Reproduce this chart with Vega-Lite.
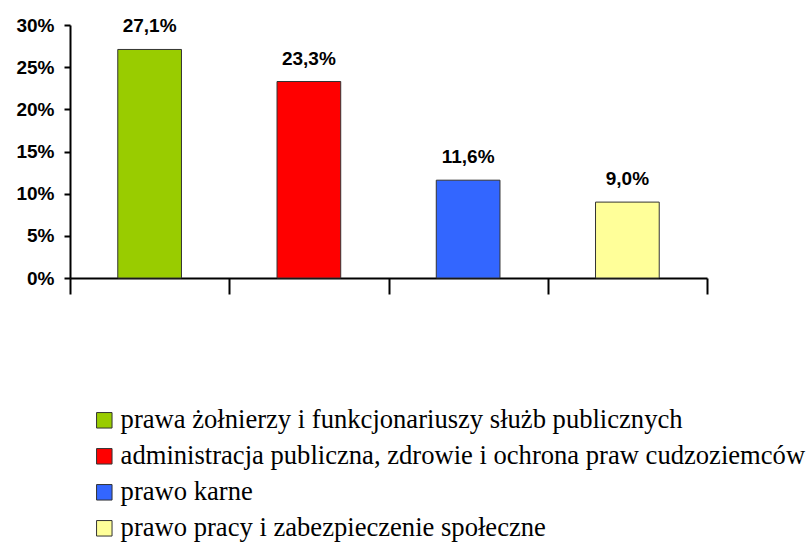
{
  "$schema": "https://vega.github.io/schema/vega-lite/v6.json",
  "width": 637,
  "height": 253,
  "autosize": {"type": "none"},
  "padding": {"left": 70, "top": 25, "right": 99, "bottom": 265},
  "background": "white",
  "config": {
    "view": {"stroke": null},
    "locale": {"number": {"decimal": ",", "thousands": " ", "grouping": [3], "currency": ["", " zł"]}}
  },
  "data": {
    "values": [
      {"kategoria": "prawa żołnierzy i funkcjonariuszy służb publicznych", "udzial": 0.271},
      {"kategoria": "administracja publiczna, zdrowie i ochrona praw cudzoziemców", "udzial": 0.233},
      {"kategoria": "prawo karne", "udzial": 0.116},
      {"kategoria": "prawo pracy i zabezpieczenie społeczne", "udzial": 0.09}
    ]
  },
  "encoding": {
    "x": {
      "field": "kategoria",
      "type": "nominal",
      "sort": null,
      "scale": {"paddingInner": 0, "paddingOuter": 0},
      "axis": {
        "title": null,
        "labels": false,
        "tickBand": "extent",
        "tickSize": 16,
        "tickWidth": 2,
        "tickColor": "black",
        "domainColor": "black",
        "domainWidth": 2
      }
    },
    "y": {
      "field": "udzial",
      "type": "quantitative",
      "scale": {"domain": [0, 0.3], "nice": false},
      "axis": {
        "title": null,
        "format": ".0%",
        "values": [0, 0.05, 0.1, 0.15, 0.2, 0.25, 0.3],
        "grid": false,
        "tickSize": 6,
        "tickWidth": 2,
        "tickColor": "black",
        "domainColor": "black",
        "domainWidth": 2,
        "labelFont": "Liberation Sans",
        "labelFontWeight": "bold",
        "labelFontSize": 19,
        "labelColor": "black",
        "labelPadding": 10
      }
    }
  },
  "layer": [
    {
      "mark": {"type": "bar", "width": {"band": 0.4}, "stroke": "#333333", "strokeWidth": 1},
      "encoding": {
        "color": {
          "field": "kategoria",
          "type": "nominal",
          "sort": null,
          "scale": {
            "domain": [
              "prawa żołnierzy i funkcjonariuszy służb publicznych",
              "administracja publiczna, zdrowie i ochrona praw cudzoziemców",
              "prawo karne",
              "prawo pracy i zabezpieczenie społeczne"
            ],
            "range": ["#99CC00", "#FF0000", "#3366FF", "#FFFF99"]
          },
          "legend": {
            "title": null,
            "orient": "none",
            "legendX": 21,
            "legendY": 382,
            "padding": 0,
            "symbolType": "square",
            "symbolSize": 240,
            "symbolStrokeColor": "#333333",
            "symbolStrokeWidth": 1,
            "symbolOffset": 0,
            "labelFont": "Liberation Serif, DejaVu Serif, serif",
            "labelFontSize": 26.6,
            "labelColor": "black",
            "labelOffset": 3,
            "labelLimit": 800,
            "rowPadding": 9
          }
        }
      }
    },
    {
      "mark": {
        "type": "text",
        "baseline": "bottom",
        "dy": -13,
        "font": "Liberation Sans",
        "fontWeight": "bold",
        "fontSize": 19,
        "color": "black"
      },
      "encoding": {
        "text": {"field": "udzial", "type": "quantitative", "format": ".1%"}
      }
    }
  ]
}
